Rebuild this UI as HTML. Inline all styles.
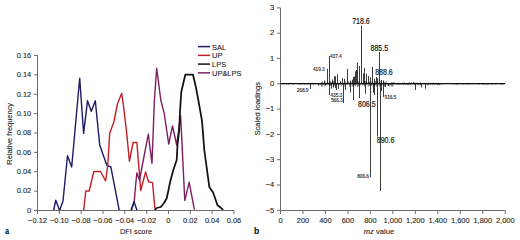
<!DOCTYPE html>
<html><head><meta charset="utf-8"><style>
html,body{margin:0;padding:0;background:#fff;}
svg{display:block;}
text{font-family:"Liberation Sans", sans-serif;font-size:7.6px;letter-spacing:-0.1px;fill:#262626;stroke:#262626;stroke-width:0.12px;}
</style></head><body>
<svg width="520" height="240" viewBox="0 0 520 240">
<rect width="520" height="240" fill="#fff"/>
<path d="M34.0,210.50H37.5" stroke="#5a5a5a" stroke-width="0.9"/>
<text x="31.2" y="212.75" text-anchor="end" textLength="4.23" lengthAdjust="spacingAndGlyphs" style="font-size:8.1px;letter-spacing:0">0</text>
<path d="M34.0,191.12H37.5" stroke="#5a5a5a" stroke-width="0.9"/>
<text x="31.2" y="193.38" text-anchor="end" textLength="14.49" lengthAdjust="spacingAndGlyphs" style="font-size:8.1px;letter-spacing:0">0.02</text>
<path d="M34.0,171.75H37.5" stroke="#5a5a5a" stroke-width="0.9"/>
<text x="31.2" y="174.00" text-anchor="end" textLength="14.49" lengthAdjust="spacingAndGlyphs" style="font-size:8.1px;letter-spacing:0">0.04</text>
<path d="M34.0,152.38H37.5" stroke="#5a5a5a" stroke-width="0.9"/>
<text x="31.2" y="154.62" text-anchor="end" textLength="14.49" lengthAdjust="spacingAndGlyphs" style="font-size:8.1px;letter-spacing:0">0.06</text>
<path d="M34.0,133.00H37.5" stroke="#5a5a5a" stroke-width="0.9"/>
<text x="31.2" y="135.25" text-anchor="end" textLength="14.49" lengthAdjust="spacingAndGlyphs" style="font-size:8.1px;letter-spacing:0">0.08</text>
<path d="M34.0,113.62H37.5" stroke="#5a5a5a" stroke-width="0.9"/>
<text x="31.2" y="115.88" text-anchor="end" textLength="14.49" lengthAdjust="spacingAndGlyphs" style="font-size:8.1px;letter-spacing:0">0.10</text>
<path d="M34.0,94.25H37.5" stroke="#5a5a5a" stroke-width="0.9"/>
<text x="31.2" y="96.50" text-anchor="end" textLength="14.49" lengthAdjust="spacingAndGlyphs" style="font-size:8.1px;letter-spacing:0">0.12</text>
<path d="M34.0,74.87H37.5" stroke="#5a5a5a" stroke-width="0.9"/>
<text x="31.2" y="77.12" text-anchor="end" textLength="14.49" lengthAdjust="spacingAndGlyphs" style="font-size:8.1px;letter-spacing:0">0.14</text>
<path d="M34.0,55.50H37.5" stroke="#5a5a5a" stroke-width="0.9"/>
<text x="31.2" y="57.75" text-anchor="end" textLength="14.49" lengthAdjust="spacingAndGlyphs" style="font-size:8.1px;letter-spacing:0">0.16</text>
<path d="M37.50,210.5V214.0" stroke="#5a5a5a" stroke-width="0.9"/>
<text x="37.50" y="222.7" text-anchor="middle" textLength="18.83" lengthAdjust="spacingAndGlyphs" style="font-size:8.1px;letter-spacing:0">−0.12</text>
<path d="M59.33,210.5V214.0" stroke="#5a5a5a" stroke-width="0.9"/>
<text x="59.33" y="222.7" text-anchor="middle" textLength="18.83" lengthAdjust="spacingAndGlyphs" style="font-size:8.1px;letter-spacing:0">−0.10</text>
<path d="M81.16,210.5V214.0" stroke="#5a5a5a" stroke-width="0.9"/>
<text x="81.16" y="222.7" text-anchor="middle" textLength="18.83" lengthAdjust="spacingAndGlyphs" style="font-size:8.1px;letter-spacing:0">−0.08</text>
<path d="M102.99,210.5V214.0" stroke="#5a5a5a" stroke-width="0.9"/>
<text x="102.99" y="222.7" text-anchor="middle" textLength="18.83" lengthAdjust="spacingAndGlyphs" style="font-size:8.1px;letter-spacing:0">−0.06</text>
<path d="M124.82,210.5V214.0" stroke="#5a5a5a" stroke-width="0.9"/>
<text x="124.82" y="222.7" text-anchor="middle" textLength="18.83" lengthAdjust="spacingAndGlyphs" style="font-size:8.1px;letter-spacing:0">−0.04</text>
<path d="M146.65,210.5V214.0" stroke="#5a5a5a" stroke-width="0.9"/>
<text x="146.65" y="222.7" text-anchor="middle" textLength="18.83" lengthAdjust="spacingAndGlyphs" style="font-size:8.1px;letter-spacing:0">−0.02</text>
<path d="M168.48,210.5V214.0" stroke="#5a5a5a" stroke-width="0.9"/>
<text x="168.48" y="222.7" text-anchor="middle" textLength="4.23" lengthAdjust="spacingAndGlyphs" style="font-size:8.1px;letter-spacing:0">0</text>
<path d="M190.31,210.5V214.0" stroke="#5a5a5a" stroke-width="0.9"/>
<text x="190.31" y="222.7" text-anchor="middle" textLength="14.49" lengthAdjust="spacingAndGlyphs" style="font-size:8.1px;letter-spacing:0">0.02</text>
<path d="M212.14,210.5V214.0" stroke="#5a5a5a" stroke-width="0.9"/>
<text x="212.14" y="222.7" text-anchor="middle" textLength="14.49" lengthAdjust="spacingAndGlyphs" style="font-size:8.1px;letter-spacing:0">0.04</text>
<path d="M233.97,210.5V214.0" stroke="#5a5a5a" stroke-width="0.9"/>
<text x="233.97" y="222.7" text-anchor="middle" textLength="14.49" lengthAdjust="spacingAndGlyphs" style="font-size:8.1px;letter-spacing:0">0.06</text>
<text x="136" y="233.8" text-anchor="middle" textLength="32.14" lengthAdjust="spacingAndGlyphs" style="font-size:8.1px;letter-spacing:0">DFI score</text>
<text transform="translate(11.5,133.8) rotate(-90)" text-anchor="middle" textLength="61.80" lengthAdjust="spacingAndGlyphs" style="font-size:8.1px;letter-spacing:0">Relative frequency</text>
<text x="5.1" y="233.6" textLength="4.1" lengthAdjust="spacingAndGlyphs" style="font-weight:bold;font-size:8.6px;fill:#111;letter-spacing:0">a</text>
<polyline points="53.60,210.40 55.75,200.25 59.60,210.60 63.00,201.00 67.50,155.80 71.70,167.00 79.70,78.30 83.60,133.30 87.50,100.80 91.30,111.30 95.30,100.80 99.70,145.00 106.70,165.00 107.70,166.00 110.80,166.70 119.20,210.20" fill="none" stroke="#1b1b68" stroke-width="1.4" stroke-linejoin="round"/>
<polyline points="83.70,210.00 85.80,191.00 89.20,191.00 93.80,171.50 100.50,171.50 105.60,181.00 107.70,166.00 109.70,133.30 113.75,122.50 117.50,103.75 121.70,93.30 123.75,108.00 126.90,135.00 129.40,161.25 133.10,142.50 136.90,142.50 140.70,190.50 145.60,171.90 148.50,181.70 152.50,182.60 155.00,209.40" fill="none" stroke="#c41e2a" stroke-width="1.4" stroke-linejoin="round"/>
<polyline points="131.30,210.50 134.20,202.00 135.20,190.00 136.80,173.00 139.50,180.00 148.30,134.20 152.00,163.30 154.40,100.00 156.70,68.30 160.80,100.00 164.20,113.30 168.70,144.00 172.50,126.00 176.70,145.00 180.60,115.60 184.80,200.40 189.20,182.30 194.40,209.70" fill="none" stroke="#7e1e62" stroke-width="1.4" stroke-linejoin="round"/>
<polyline points="155.00,210.00 156.70,208.00 160.80,207.00 164.00,203.00 166.70,198.30 168.50,190.00 170.00,182.50 173.30,170.00 176.70,160.00 177.50,145.00 179.20,130.00 180.00,111.70 181.30,91.70 185.30,74.70 193.00,74.70 195.80,86.70 198.30,100.00 202.00,120.80 204.30,150.00 209.30,186.90 213.10,192.50 217.50,205.30 220.00,207.00 223.20,209.90" fill="none" stroke="#111" stroke-width="1.75" stroke-linejoin="round"/>
<polyline points="131.00,210.50 134.00,201.50 137.00,210.50" fill="none" stroke="#1b1b68" stroke-width="1.4" stroke-linejoin="round"/>
<path d="M37.5,55.5V210.5H233.96999999999997" fill="none" stroke="#5a5a5a" stroke-width="0.9"/>
<path d="M198,46.60H210" stroke="#1b1b68" stroke-width="1.5"/>
<text x="212" y="49.50" textLength="14.17" lengthAdjust="spacingAndGlyphs" style="font-size:8.1px;letter-spacing:0">SAL</text>
<path d="M198,55.35H210" stroke="#c41e2a" stroke-width="1.5"/>
<text x="212" y="58.25" textLength="10.46" lengthAdjust="spacingAndGlyphs" style="font-size:8.1px;letter-spacing:0">UP</text>
<path d="M198,64.10H210" stroke="#111" stroke-width="1.5"/>
<text x="212" y="67.00" textLength="14.17" lengthAdjust="spacingAndGlyphs" style="font-size:8.1px;letter-spacing:0">LPS</text>
<path d="M198,72.85H210" stroke="#7e1e62" stroke-width="1.5"/>
<text x="212" y="75.75" textLength="29.49" lengthAdjust="spacingAndGlyphs" style="font-size:8.1px;letter-spacing:0">UP&amp;LPS</text>
<path d="M280.5,7.90V210.5H505.25" fill="none" stroke="#5a5a5a" stroke-width="0.9"/>
<path d="M277.0,7.90H280.5" stroke="#5a5a5a" stroke-width="0.9"/>
<text x="274.2" y="10.15" text-anchor="end" textLength="4.23" lengthAdjust="spacingAndGlyphs" style="font-size:8.1px;letter-spacing:0">3</text>
<path d="M277.0,33.20H280.5" stroke="#5a5a5a" stroke-width="0.9"/>
<text x="274.2" y="35.45" text-anchor="end" textLength="4.23" lengthAdjust="spacingAndGlyphs" style="font-size:8.1px;letter-spacing:0">2</text>
<path d="M277.0,58.50H280.5" stroke="#5a5a5a" stroke-width="0.9"/>
<text x="274.2" y="60.75" text-anchor="end" textLength="4.23" lengthAdjust="spacingAndGlyphs" style="font-size:8.1px;letter-spacing:0">1</text>
<path d="M277.0,83.80H280.5" stroke="#5a5a5a" stroke-width="0.9"/>
<text x="274.2" y="86.05" text-anchor="end" textLength="4.23" lengthAdjust="spacingAndGlyphs" style="font-size:8.1px;letter-spacing:0">0</text>
<path d="M277.0,109.10H280.5" stroke="#5a5a5a" stroke-width="0.9"/>
<text x="274.2" y="111.35" text-anchor="end" textLength="8.57" lengthAdjust="spacingAndGlyphs" style="font-size:8.1px;letter-spacing:0">−1</text>
<path d="M277.0,134.40H280.5" stroke="#5a5a5a" stroke-width="0.9"/>
<text x="274.2" y="136.65" text-anchor="end" textLength="8.57" lengthAdjust="spacingAndGlyphs" style="font-size:8.1px;letter-spacing:0">−2</text>
<path d="M277.0,159.70H280.5" stroke="#5a5a5a" stroke-width="0.9"/>
<text x="274.2" y="161.95" text-anchor="end" textLength="8.57" lengthAdjust="spacingAndGlyphs" style="font-size:8.1px;letter-spacing:0">−3</text>
<path d="M277.0,185.00H280.5" stroke="#5a5a5a" stroke-width="0.9"/>
<text x="274.2" y="187.25" text-anchor="end" textLength="8.57" lengthAdjust="spacingAndGlyphs" style="font-size:8.1px;letter-spacing:0">−4</text>
<path d="M277.0,210.30H280.5" stroke="#5a5a5a" stroke-width="0.9"/>
<text x="274.2" y="212.55" text-anchor="end" textLength="8.57" lengthAdjust="spacingAndGlyphs" style="font-size:8.1px;letter-spacing:0">−5</text>
<path d="M280.50,210.5V214.0" stroke="#5a5a5a" stroke-width="0.9"/>
<text x="280.50" y="222.7" text-anchor="middle" textLength="4.23" lengthAdjust="spacingAndGlyphs" style="font-size:8.1px;letter-spacing:0">0</text>
<path d="M302.98,210.5V214.0" stroke="#5a5a5a" stroke-width="0.9"/>
<text x="302.98" y="222.7" text-anchor="middle" textLength="12.48" lengthAdjust="spacingAndGlyphs" style="font-size:8.1px;letter-spacing:0">200</text>
<path d="M325.45,210.5V214.0" stroke="#5a5a5a" stroke-width="0.9"/>
<text x="325.45" y="222.7" text-anchor="middle" textLength="12.48" lengthAdjust="spacingAndGlyphs" style="font-size:8.1px;letter-spacing:0">400</text>
<path d="M347.93,210.5V214.0" stroke="#5a5a5a" stroke-width="0.9"/>
<text x="347.93" y="222.7" text-anchor="middle" textLength="12.48" lengthAdjust="spacingAndGlyphs" style="font-size:8.1px;letter-spacing:0">600</text>
<path d="M370.40,210.5V214.0" stroke="#5a5a5a" stroke-width="0.9"/>
<text x="370.40" y="222.7" text-anchor="middle" textLength="12.48" lengthAdjust="spacingAndGlyphs" style="font-size:8.1px;letter-spacing:0">800</text>
<path d="M392.88,210.5V214.0" stroke="#5a5a5a" stroke-width="0.9"/>
<text x="392.88" y="222.7" text-anchor="middle" textLength="18.62" lengthAdjust="spacingAndGlyphs" style="font-size:8.1px;letter-spacing:0">1,000</text>
<path d="M415.35,210.5V214.0" stroke="#5a5a5a" stroke-width="0.9"/>
<text x="415.35" y="222.7" text-anchor="middle" textLength="18.62" lengthAdjust="spacingAndGlyphs" style="font-size:8.1px;letter-spacing:0">1,200</text>
<path d="M437.83,210.5V214.0" stroke="#5a5a5a" stroke-width="0.9"/>
<text x="437.83" y="222.7" text-anchor="middle" textLength="18.62" lengthAdjust="spacingAndGlyphs" style="font-size:8.1px;letter-spacing:0">1,400</text>
<path d="M460.30,210.5V214.0" stroke="#5a5a5a" stroke-width="0.9"/>
<text x="460.30" y="222.7" text-anchor="middle" textLength="18.62" lengthAdjust="spacingAndGlyphs" style="font-size:8.1px;letter-spacing:0">1,600</text>
<path d="M482.77,210.5V214.0" stroke="#5a5a5a" stroke-width="0.9"/>
<text x="482.77" y="222.7" text-anchor="middle" textLength="18.62" lengthAdjust="spacingAndGlyphs" style="font-size:8.1px;letter-spacing:0">1,800</text>
<path d="M505.25,210.5V214.0" stroke="#5a5a5a" stroke-width="0.9"/>
<text x="505.25" y="222.7" text-anchor="middle" textLength="18.62" lengthAdjust="spacingAndGlyphs" style="font-size:8.1px;letter-spacing:0">2,000</text>
<text x="363.8" y="234.1" style="letter-spacing:0"><tspan style="font-style:italic">mz</tspan> value</text>
<text transform="translate(259.7,108.8) rotate(-90)" text-anchor="middle" textLength="53.60" lengthAdjust="spacingAndGlyphs" style="font-size:8.1px;letter-spacing:0">Scaled loadings</text>
<text x="254" y="233.6" style="font-weight:bold;font-size:8.6px;fill:#111;letter-spacing:0">b</text>
<path d="M324.50,83.8V80.60" stroke="#333" stroke-width="0.95"/>
<path d="M327.50,83.8V68.75" stroke="#333" stroke-width="0.95"/>
<path d="M329.50,83.8V56.00" stroke="#333" stroke-width="0.95"/>
<path d="M332.50,83.8V79.40" stroke="#333" stroke-width="0.95"/>
<path d="M334.50,83.8V76.25" stroke="#333" stroke-width="0.95"/>
<path d="M335.50,83.8V76.25" stroke="#333" stroke-width="0.95"/>
<path d="M337.50,83.8V74.40" stroke="#333" stroke-width="0.95"/>
<path d="M340.50,83.8V81.25" stroke="#333" stroke-width="0.95"/>
<path d="M342.50,83.8V78.10" stroke="#333" stroke-width="0.95"/>
<path d="M344.50,83.8V78.75" stroke="#333" stroke-width="0.95"/>
<path d="M347.50,83.8V69.00" stroke="#333" stroke-width="0.95"/>
<path d="M350.50,83.8V80.60" stroke="#333" stroke-width="0.95"/>
<path d="M352.50,83.8V79.60" stroke="#333" stroke-width="0.95"/>
<path d="M353.50,83.8V76.90" stroke="#333" stroke-width="0.95"/>
<path d="M354.50,83.8V76.50" stroke="#333" stroke-width="0.95"/>
<path d="M355.50,83.8V71.25" stroke="#333" stroke-width="0.95"/>
<path d="M356.50,83.8V70.00" stroke="#333" stroke-width="0.95"/>
<path d="M357.50,83.8V62.50" stroke="#333" stroke-width="0.95"/>
<path d="M359.50,83.8V66.00" stroke="#333" stroke-width="0.95"/>
<path d="M361.50,83.8V25.75" stroke="#333" stroke-width="0.95"/>
<path d="M363.50,83.8V73.30" stroke="#333" stroke-width="0.95"/>
<path d="M364.50,83.8V68.10" stroke="#333" stroke-width="0.95"/>
<path d="M366.50,83.8V73.75" stroke="#333" stroke-width="0.95"/>
<path d="M368.50,83.8V76.00" stroke="#333" stroke-width="0.95"/>
<path d="M370.50,83.8V77.50" stroke="#333" stroke-width="0.95"/>
<path d="M372.50,83.8V67.00" stroke="#333" stroke-width="0.95"/>
<path d="M374.50,83.8V78.75" stroke="#333" stroke-width="0.95"/>
<path d="M376.50,83.8V77.00" stroke="#333" stroke-width="0.95"/>
<path d="M377.50,83.8V78.00" stroke="#333" stroke-width="0.95"/>
<path d="M379.50,83.8V52.00" stroke="#333" stroke-width="0.95"/>
<path d="M381.50,83.8V80.00" stroke="#333" stroke-width="0.95"/>
<path d="M383.50,83.8V80.50" stroke="#333" stroke-width="0.95"/>
<path d="M413.50,83.8V81.90" stroke="#333" stroke-width="0.95"/>
<path d="M310.50,83.8V89.00" stroke="#333" stroke-width="0.95"/>
<path d="M318.50,83.8V85.60" stroke="#333" stroke-width="0.95"/>
<path d="M325.50,83.8V85.60" stroke="#333" stroke-width="0.95"/>
<path d="M329.50,83.8V95.00" stroke="#333" stroke-width="0.95"/>
<path d="M331.50,83.8V88.75" stroke="#333" stroke-width="0.95"/>
<path d="M333.50,83.8V87.50" stroke="#333" stroke-width="0.95"/>
<path d="M335.50,83.8V88.10" stroke="#333" stroke-width="0.95"/>
<path d="M336.50,83.8V90.00" stroke="#333" stroke-width="0.95"/>
<path d="M338.50,83.8V88.75" stroke="#333" stroke-width="0.95"/>
<path d="M343.50,83.8V103.00" stroke="#333" stroke-width="0.95"/>
<path d="M345.50,83.8V90.00" stroke="#333" stroke-width="0.95"/>
<path d="M350.50,83.8V92.50" stroke="#333" stroke-width="0.95"/>
<path d="M353.50,83.8V100.00" stroke="#333" stroke-width="0.95"/>
<path d="M359.50,83.8V98.10" stroke="#333" stroke-width="0.95"/>
<path d="M365.50,83.8V93.75" stroke="#333" stroke-width="0.95"/>
<path d="M370.50,83.8V177.20" stroke="#333" stroke-width="0.95"/>
<path d="M373.50,83.8V92.50" stroke="#333" stroke-width="0.95"/>
<path d="M374.50,83.8V95.00" stroke="#333" stroke-width="0.95"/>
<path d="M377.50,83.8V136.50" stroke="#333" stroke-width="0.95"/>
<path d="M380.50,83.8V191.00" stroke="#333" stroke-width="0.95"/>
<path d="M381.50,83.8V91.00" stroke="#333" stroke-width="0.95"/>
<path d="M383.50,83.8V97.00" stroke="#333" stroke-width="0.95"/>
<path d="M385.50,83.8V87.00" stroke="#333" stroke-width="0.95"/>
<path d="M388.50,83.8V86.00" stroke="#333" stroke-width="0.95"/>
<path d="M415.50,83.8V90.00" stroke="#333" stroke-width="0.95"/>
<path d="M421.50,83.8V87.50" stroke="#333" stroke-width="0.95"/>
<path d="M425.50,83.8V88.75" stroke="#333" stroke-width="0.95"/>
<path d="M281.00,83.48V83.95M281.90,83.15V83.87M282.80,83.26V84.17M283.70,83.74V84.31M284.60,83.76V84.23M285.50,83.73V83.89M286.40,83.38V84.63M287.30,83.68V84.02M288.20,83.17V84.75M289.10,83.22V84.20M290.00,82.82V83.85M290.90,82.94V84.09M291.80,83.66V83.92M292.70,83.49V84.62M293.60,83.62V84.38M294.50,83.16V84.17M295.40,83.25V83.86M296.30,83.74V84.01M297.20,83.12V84.23M298.10,83.49V84.39M299.00,83.35V84.10M299.90,83.01V84.50M300.80,83.56V84.37M301.70,83.27V84.68M302.60,83.07V84.09M303.50,82.82V83.92M304.40,83.38V84.56M305.30,83.65V84.29M306.20,83.76V84.47M307.10,83.04V84.37M308.00,82.92V84.11M308.90,83.10V84.39M309.80,83.22V84.26M310.70,82.96V84.74M311.60,83.33V84.46M312.50,83.74V84.50M313.40,83.15V84.79M314.30,82.98V84.08M315.20,83.41V84.47M316.10,83.78V84.26M317.00,83.63V83.92M317.90,83.74V84.57M318.80,83.67V84.05M319.70,83.41V84.67M320.60,83.56V85.15M321.50,82.15V86.45M322.40,81.34V86.39M323.30,82.96V85.05M324.20,82.72V86.45M325.10,80.93V84.25M326.00,83.27V84.50M326.90,83.10V85.25M327.80,82.03V84.59M328.70,83.79V85.06M329.60,82.69V85.50M330.50,80.94V85.87M331.40,82.25V85.65M332.30,81.77V83.96M333.20,81.10V86.14M334.10,81.18V86.19M335.00,82.62V85.00M335.90,83.49V85.70M336.80,83.61V84.00M337.70,83.17V84.29M338.60,82.78V83.96M339.50,83.80V84.25M340.40,83.50V84.89M341.30,83.72V86.42M342.20,81.96V84.25M343.10,83.04V84.84M344.00,82.71V84.17M344.90,81.25V86.78M345.80,82.40V85.25M346.70,83.54V84.11M347.60,82.77V84.59M348.50,81.31V84.28M349.40,83.73V86.65M350.30,82.22V84.24M351.20,82.17V83.88M352.10,82.22V86.74M353.00,81.21V85.89M353.90,83.02V84.90M354.80,83.30V86.12M355.70,82.20V86.14M356.60,82.81V84.47M357.50,81.37V86.75M358.40,81.24V86.22M359.30,81.35V86.02M360.20,83.12V85.35M361.10,82.73V83.89M362.00,83.72V84.64M362.90,83.02V85.88M363.80,80.93V85.14M364.70,80.99V86.76M365.60,80.93V84.89M366.50,83.14V84.48M367.40,83.21V84.41M368.30,81.93V86.50M369.20,81.28V85.24M370.10,81.84V86.20M371.00,83.55V85.78M371.90,81.07V86.15M372.80,81.55V85.23M373.70,83.26V86.17M374.60,82.80V86.20M375.50,80.89V84.99M376.40,82.60V86.64M377.30,81.63V84.31M378.20,83.42V84.25M379.10,81.09V86.22M380.00,83.36V86.28M380.90,80.86V85.77M381.80,82.75V85.45M382.70,83.41V83.84M383.60,80.89V85.75M384.50,82.22V86.60M385.40,82.50V86.42M386.30,81.32V84.43M387.20,83.04V84.68M388.10,83.08V85.56M389.00,83.02V85.06M389.90,83.41V86.53M390.80,82.74V85.17M391.70,82.05V86.51M392.60,82.54V86.55M393.50,82.30V85.40M394.40,82.23V83.86M395.30,83.10V84.09M396.20,83.79V85.08M397.10,83.52V84.56M398.00,82.64V84.69M398.90,83.28V84.63M399.80,82.91V85.05M400.70,83.63V84.70M401.60,83.40V84.24M402.50,82.56V84.61M403.40,82.90V85.02M404.30,82.34V84.51M405.20,82.82V84.61M406.10,82.98V84.91M407.00,83.08V84.65M407.90,83.04V85.31M408.80,82.68V85.20M409.70,82.29V84.22M410.60,82.90V85.31M411.50,82.46V84.02M412.40,83.61V84.51M413.30,83.68V84.19M414.20,83.68V84.87M415.10,82.55V85.24M416.00,83.55V84.95M416.90,82.74V84.03M417.80,82.39V85.35M418.70,83.45V85.32M419.60,83.16V84.58M420.50,82.22V85.13M421.40,83.54V84.49M422.30,82.98V84.34M423.20,83.49V84.31M424.10,82.64V83.83M425.00,82.91V84.50M425.90,83.77V84.33M426.80,82.80V84.62M427.70,83.70V85.38M428.60,82.54V85.35M429.50,83.63V84.22M430.40,83.74V85.05M431.30,83.37V84.01M432.20,83.12V85.26M433.10,82.49V84.21M434.00,83.56V85.27M434.90,82.89V84.92M435.80,83.66V83.89M436.70,82.70V84.48M437.60,83.68V85.30M438.50,82.78V85.08M439.40,83.67V85.17M440.30,83.74V84.58M441.20,83.39V84.11M442.10,83.30V84.63M443.00,83.56V83.92M443.90,83.33V84.01M444.80,83.70V83.95M445.70,83.75V83.98M446.60,83.52V84.07M447.50,83.12V84.06M448.40,83.35V83.96M449.30,83.49V83.82M450.20,83.57V83.81M451.10,83.14V84.30M452.00,83.63V84.23M452.90,82.96V83.90M453.80,83.06V84.19M454.70,83.35V84.55M455.60,83.45V84.26M456.50,83.18V84.68M457.40,83.49V84.55M458.30,83.16V84.37M459.20,83.44V84.11M460.10,83.75V83.92M461.00,83.74V84.47M461.90,83.57V83.95M462.80,83.72V84.56M463.70,83.02V84.40M464.60,83.55V84.02M465.50,83.54V84.21M466.40,83.66V84.20M467.30,83.56V84.67M468.20,82.92V84.29M469.10,83.58V84.67M470.00,83.52V84.12M470.90,83.80V84.14M471.80,83.37V84.25M472.70,83.62V84.25M473.60,83.80V84.04M474.50,83.72V84.16M475.40,83.76V83.82M476.30,83.53V84.01M477.20,83.27V84.28M478.10,83.12V84.39M479.00,83.16V84.59M479.90,83.45V84.09M480.80,82.91V83.93M481.70,83.15V84.38M482.60,83.76V84.55M483.50,83.00V84.36M484.40,83.14V84.53M485.30,83.67V84.27M486.20,83.35V84.55M487.10,83.08V84.54M488.00,83.27V84.60M488.90,83.19V84.42M489.80,83.59V83.83M490.70,83.68V84.12M491.60,83.71V84.55M492.50,83.30V84.36M493.40,83.24V84.41M494.30,83.36V83.80M495.20,83.08V84.47M496.10,83.35V84.28M497.00,83.21V83.86M497.90,83.14V84.03M498.80,83.73V84.04M499.70,83.14V83.98M500.60,83.13V84.68M501.50,83.36V84.14M502.40,83.37V84.42M503.30,83.11V84.36M504.20,83.22V83.87" stroke="#222" stroke-width="0.6"/>
<path d="M280.5,83.6H505.25" stroke="#111" stroke-width="1.3"/>
<text x="296.8" y="91.8" style="font-size:4.8px">268.9</text>
<text x="313" y="70.6" style="font-size:4.8px">419.3</text>
<text x="330" y="58.2" style="font-size:4.8px">437.4</text>
<text x="330.5" y="97.2" style="font-size:4.8px">435.3</text>
<text x="331" y="102.2" style="font-size:4.8px">566.3</text>
<text x="384.6" y="99.3" style="font-size:4.8px">916.5</text>
<text x="357.3" y="177.8" style="font-size:4.8px">806.6</text>
<text x="352.2" y="24.4" textLength="17.6" lengthAdjust="spacingAndGlyphs" style="font-size:8.2px;letter-spacing:0;fill:#1a1a1a;stroke:#1a1a1a;stroke-width:0.2px">718.6</text>
<text x="370.5" y="50.5" textLength="17.6" lengthAdjust="spacingAndGlyphs" style="font-size:8.2px;letter-spacing:0;fill:#1a1a1a;stroke:#1a1a1a;stroke-width:0.2px">885.5</text>
<text x="375.2" y="75.4" textLength="17.6" lengthAdjust="spacingAndGlyphs" style="font-size:8.2px;letter-spacing:0;fill:#1a1a1a;stroke:#1a1a1a;stroke-width:0.2px">888.6</text>
<text x="358" y="106.9" textLength="17.6" lengthAdjust="spacingAndGlyphs" style="font-size:8.2px;letter-spacing:0;fill:#1a1a1a;stroke:#1a1a1a;stroke-width:0.2px">806.5</text>
<text x="376.8" y="142.8" textLength="17.6" lengthAdjust="spacingAndGlyphs" style="font-size:8.2px;letter-spacing:0;fill:#1a1a1a;stroke:#1a1a1a;stroke-width:0.2px">890.6</text>
</svg>
</body></html>
